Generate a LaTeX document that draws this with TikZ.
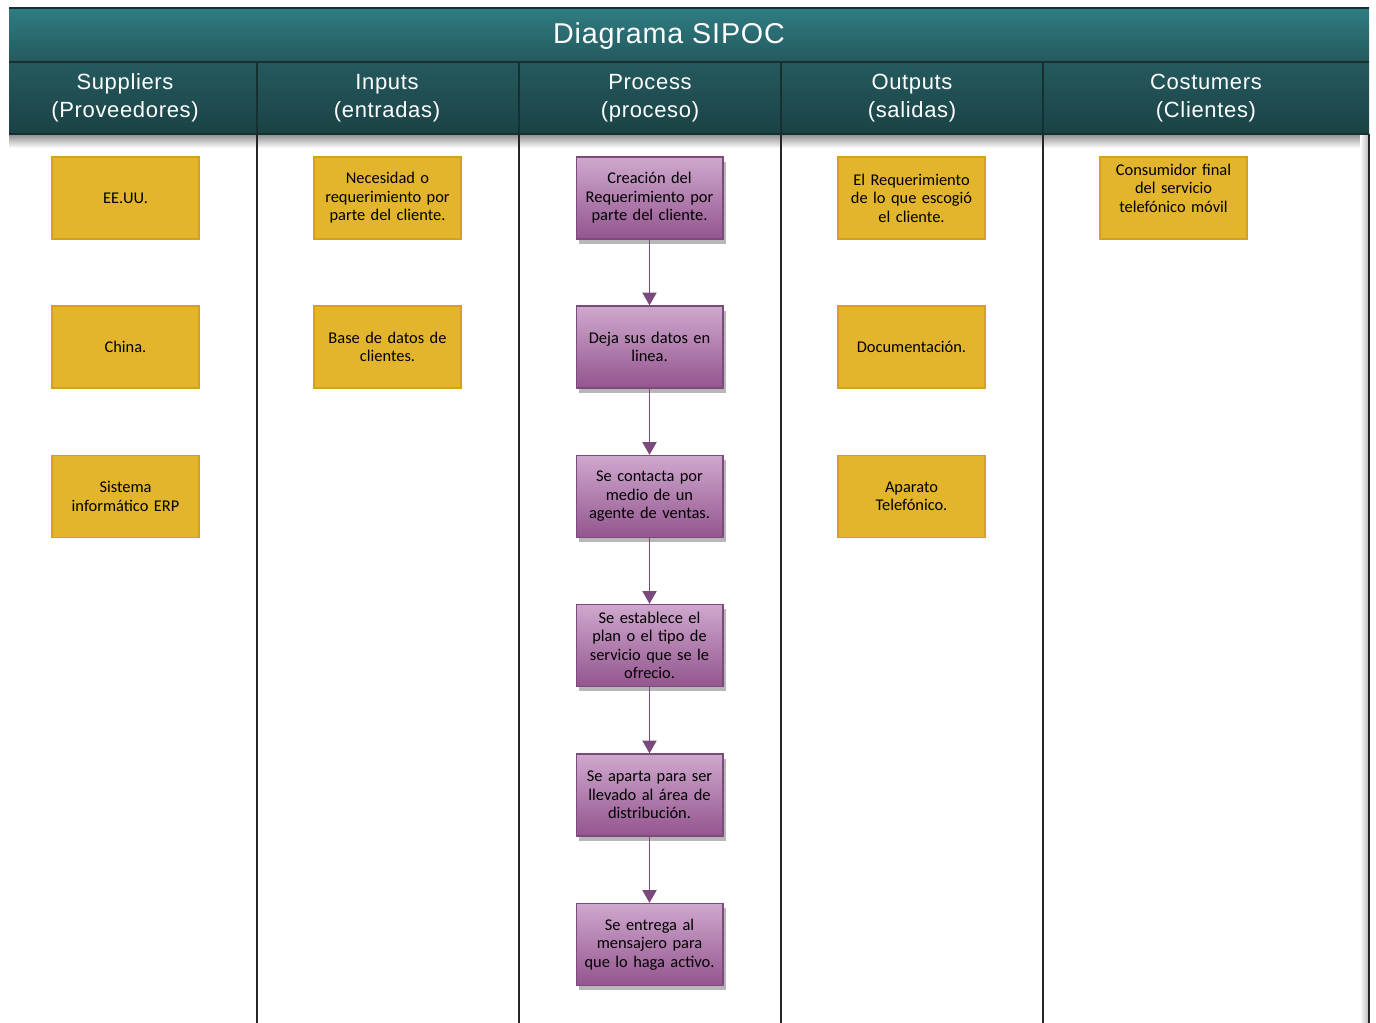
\documentclass[tikz,border=0pt]{standalone}
\usepackage{fontspec}
\setmainfont{Carlito}
\newfontfamily\headfont[LetterSpace=3]{Liberation Sans}
\usetikzlibrary{shadows,arrows.meta}

\definecolor{titletop}{HTML}{2F7D83}
\definecolor{titlebot}{HTML}{24595E}
\definecolor{headtop}{HTML}{255A5E}
\definecolor{headbot}{HTML}{1A4245}
\definecolor{rulec}{HTML}{15302F}
\definecolor{gold}{HTML}{E2B52C}
\definecolor{golddraw}{HTML}{D1A11F}
\definecolor{plumtop}{HTML}{CFA8CE}
\definecolor{plumbot}{HTML}{93558E}
\definecolor{plumdraw}{HTML}{7C4B7C}
\definecolor{arrowc}{HTML}{7A4A7C}

\tikzset{
  px/.style={x=0.75pt,y=-0.75pt},
  headtext/.style={text=white,font=\headfont\fontsize{16.5}{21}\selectfont,align=center},
  boxfont/.style={font=\fontsize{12.3}{13.9}\selectfont},
  itembox/.style={rectangle,fill=gold,draw=golddraw,line width=1.2pt,
    minimum width=110pt,minimum height=61.5pt,text width=108pt,align=center,
    boxfont,inner sep=0pt},
  itemtext/.style={text width=108pt,align=center,boxfont,inner sep=0pt},
  stepbox/.style={rectangle,top color=plumtop,bottom color=plumbot,draw=plumdraw,line width=1pt,
    minimum width=110pt,minimum height=61.5pt,text width=108pt,align=center,
    boxfont,inner sep=0pt,
    drop shadow={shadow xshift=2pt,shadow yshift=-3.5pt,opacity=0.4,fill=black!70}},
  flow/.style={draw=arrowc,line width=1.3pt,-{Triangle[length=9.5pt,width=10.5pt]}},
  lane/.style={draw=black!85,line width=1.5pt}
}

\begin{document}
\begin{tikzpicture}[px]
\useasboundingbox (0,0) rectangle (1376,1023);
\fill[white] (0,0) rectangle (1376,1023);

% shadow under the header band
\shade[top color=black!45,bottom color=white] (9,134) rectangle (1369,148);

% lane rules
\foreach \xx in {257,519,781,1043}{
  \draw[lane] (\xx,134) -- (\xx,1023);
}
\shade[left color=white,right color=black!25] (1360,134) rectangle (1368,1023);
\draw[draw=black!85,line width=2.2pt] (1369,134) -- (1369,1023);

% title band
\shade[top color=titletop,bottom color=titlebot] (9,8) rectangle (1369,62);
\draw[rulec,line width=1.2pt] (9,8) -- (1369,8);
\node[text=white,font=\headfont\fontsize{21.5}{25}\selectfont] (title) at (669,36) {Diagrama SIPOC};

% column headers
\foreach \xa/\xb in {9/257,257/519,519/781,781/1043,1043/1369}{
  \shade[top color=headtop,bottom color=headbot] (\xa,62) rectangle (\xb,134);
}
\draw[rulec,line width=1.4pt] (9,62) -- (1369,62);
\draw[rulec,line width=1.2pt] (9,134) -- (1369,134);
\foreach \xx in {257,519,781,1043}{
  \draw[rulec,line width=1.4pt] (\xx,62) -- (\xx,134);
}
\node[headtext] (hs) at (125,98) {Suppliers\\(Proveedores)};
\node[headtext] (hi) at (387,98) {Inputs\\(entradas)};
\node[headtext] (hp) at (650,98) {Process\\(proceso)};
\node[headtext] (ho) at (912,98) {Outputs\\(salidas)};
\node[headtext] (hc) at (1206,98) {Costumers\\(Clientes)};

% suppliers
\node[itembox] (s1) at (125.5,198) {EE.UU.};
\node[itembox] (s2) at (125.5,347) {China.};
\node[itembox] (s3) at (125.5,496.5) {Sistema\\informático ERP};

% inputs
\node[itembox] (i1) at (387.5,198) {Necesidad o\\requerimiento por\\parte del cliente.};
\node[itembox] (i2) at (387.5,347) {Base de datos de\\clientes.};

% process
\node[stepbox] (p1) at (649.5,198) {Creación del\\Requerimiento por\\parte del cliente.};
\node[stepbox] (p2) at (649.5,347) {Deja sus datos en\\linea.};
\node[stepbox] (p3) at (649.5,496.5) {Se contacta por\\medio de un\\agente de ventas.};
\node[stepbox] (p4) at (649.5,645.5) {Se establece el\\plan o el tipo de\\servicio que se le\\ofrecio.};
\node[stepbox] (p5) at (649.5,795) {Se aparta para ser\\llevado al área de\\distribución.};
\node[stepbox] (p6) at (649.5,944.5) {Se entrega al\\mensajero para\\que lo haga activo.};

\draw[flow] (p1) -- (p2);
\draw[flow] (p2) -- (p3);
\draw[flow] (p3) -- (p4);
\draw[flow] (p4) -- (p5);
\draw[flow] (p5) -- (p6);

% outputs
\node[itembox] (o1) at (911.5,198) {El Requerimiento\\de lo que escogió\\el cliente.};
\node[itembox] (o2) at (911.5,347) {Documentación.};
\node[itembox] (o3) at (911.5,496.5) {Aparato\\Telefónico.};

% customers: text sits in the upper part of the box
\node[itembox] (c1) at (1173.5,198) {};
\node[itemtext] (c1t) at ([yshift=7.5pt]c1.center) {Consumidor final\\del servicio\\telefónico móvil};
\end{tikzpicture}
\end{document}
